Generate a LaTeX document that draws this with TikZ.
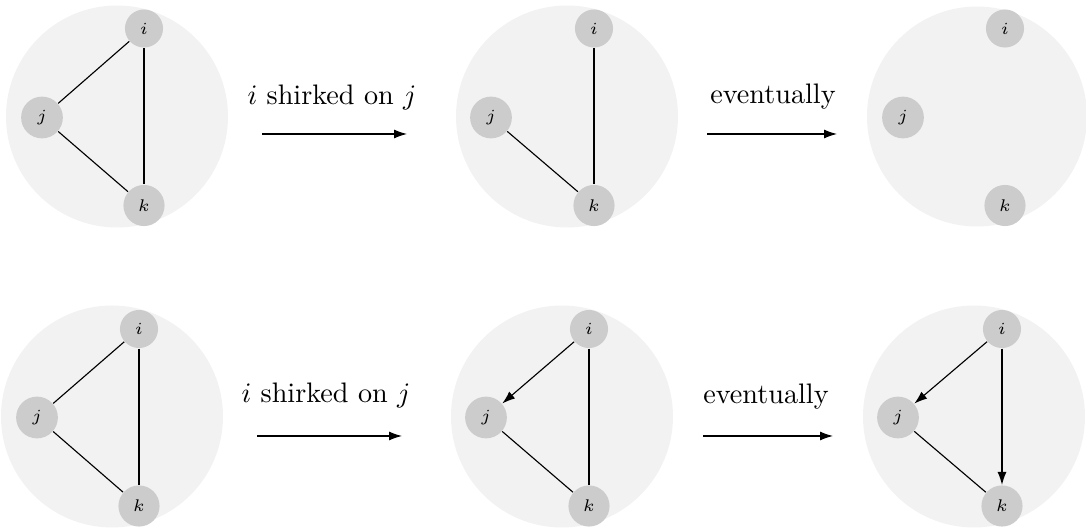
\documentclass[tikz,border=0pt]{standalone}
\usetikzlibrary{arrows.meta}
\begin{document}
\begin{tikzpicture}[x=0.3546pt,y=-0.3546pt,
  panel/.style={fill=black!5,draw=none},
  vtx/.style={circle,fill=black!20,draw=none,inner sep=3.1pt,font=\fontsize{6}{7}\selectfont},
  edge/.style={line width=0.4pt},
  dedge/.style={line width=0.4pt,-{Latex[length=4.6pt,width=3.2pt]}},
  step arrow/.style={line width=0.4pt,-{Latex[length=4.6pt,width=3.2pt]}},
  lbl/.style={anchor=base,inner sep=0pt,font=\fontsize{10}{12}\selectfont}]
\useasboundingbox (0,0) rectangle (1086,529);
% ---------- top row ----------
\fill[panel] (117,116.5) circle (111);
\node[vtx] (a1i) at (144,28.5) {$i$};
\node[vtx] (a1j) at (42,117.5) {$j$};
\node[vtx] (a1k) at (144,205.5) {$k$};
\draw[edge] (a1i) -- (a1j);
\draw[edge] (a1j) -- (a1k);
\draw[edge] (a1i) -- (a1k);

\fill[panel] (567,116.5) circle (111);
\node[vtx] (a2i) at (594,28.5) {$i$};
\node[vtx] (a2j) at (491,117.5) {$j$};
\node[vtx] (a2k) at (594,205.5) {$k$};
\draw[edge] (a2j) -- (a2k);
\draw[edge] (a2i) -- (a2k);

\fill[panel] (977,116.5) circle (110);
\node[vtx] (a3i) at (1005,28.5) {$i$};
\node[vtx] (a3j) at (903,117.5) {$j$};
\node[vtx] (a3k) at (1005,205.5) {$k$};

\node[lbl] (t1) at (332,105) {$i$ shirked on $j$};
\coordinate (t1s) at (262,134);
\coordinate (t1e) at (407,134);
\draw[step arrow] (t1s) -- (t1e);

\node[lbl] (t2) at (773,104) {eventually};
\coordinate (t2s) at (707,134);
\coordinate (t2e) at (837,134);
\draw[step arrow] (t2s) -- (t2e);

% ---------- bottom row ----------
\fill[panel] (112,416.5) circle (111);
\node[vtx] (b1i) at (139,329) {$i$};
\node[vtx] (b1j) at (37,417.5) {$j$};
\node[vtx] (b1k) at (139,506) {$k$};
\draw[edge] (b1i) -- (b1j);
\draw[edge] (b1j) -- (b1k);
\draw[edge] (b1i) -- (b1k);

\fill[panel] (562,416.5) circle (111);
\node[vtx] (b2i) at (589,329) {$i$};
\node[vtx] (b2j) at (486,417.5) {$j$};
\node[vtx] (b2k) at (589,506) {$k$};
\draw[dedge] (b2i) -- (b2j);
\draw[edge] (b2j) -- (b2k);
\draw[edge] (b2i) -- (b2k);

\fill[panel] (974,416.5) circle (111);
\node[vtx] (b3i) at (1002,329) {$i$};
\node[vtx] (b3j) at (898,417.5) {$j$};
\node[vtx] (b3k) at (1002,506) {$k$};
\draw[dedge] (b3i) -- (b3j);
\draw[edge] (b3j) -- (b3k);
\draw[dedge] (b3i) -- (b3k);

\node[lbl] (t3) at (326,403) {$i$ shirked on $j$};
\coordinate (t3s) at (257,436);
\coordinate (t3e) at (402,436);
\draw[step arrow] (t3s) -- (t3e);

\node[lbl] (t4) at (766,404) {eventually};
\coordinate (t4s) at (703,436);
\coordinate (t4e) at (833,436);
\draw[step arrow] (t4s) -- (t4e);
\end{tikzpicture}
\end{document}
